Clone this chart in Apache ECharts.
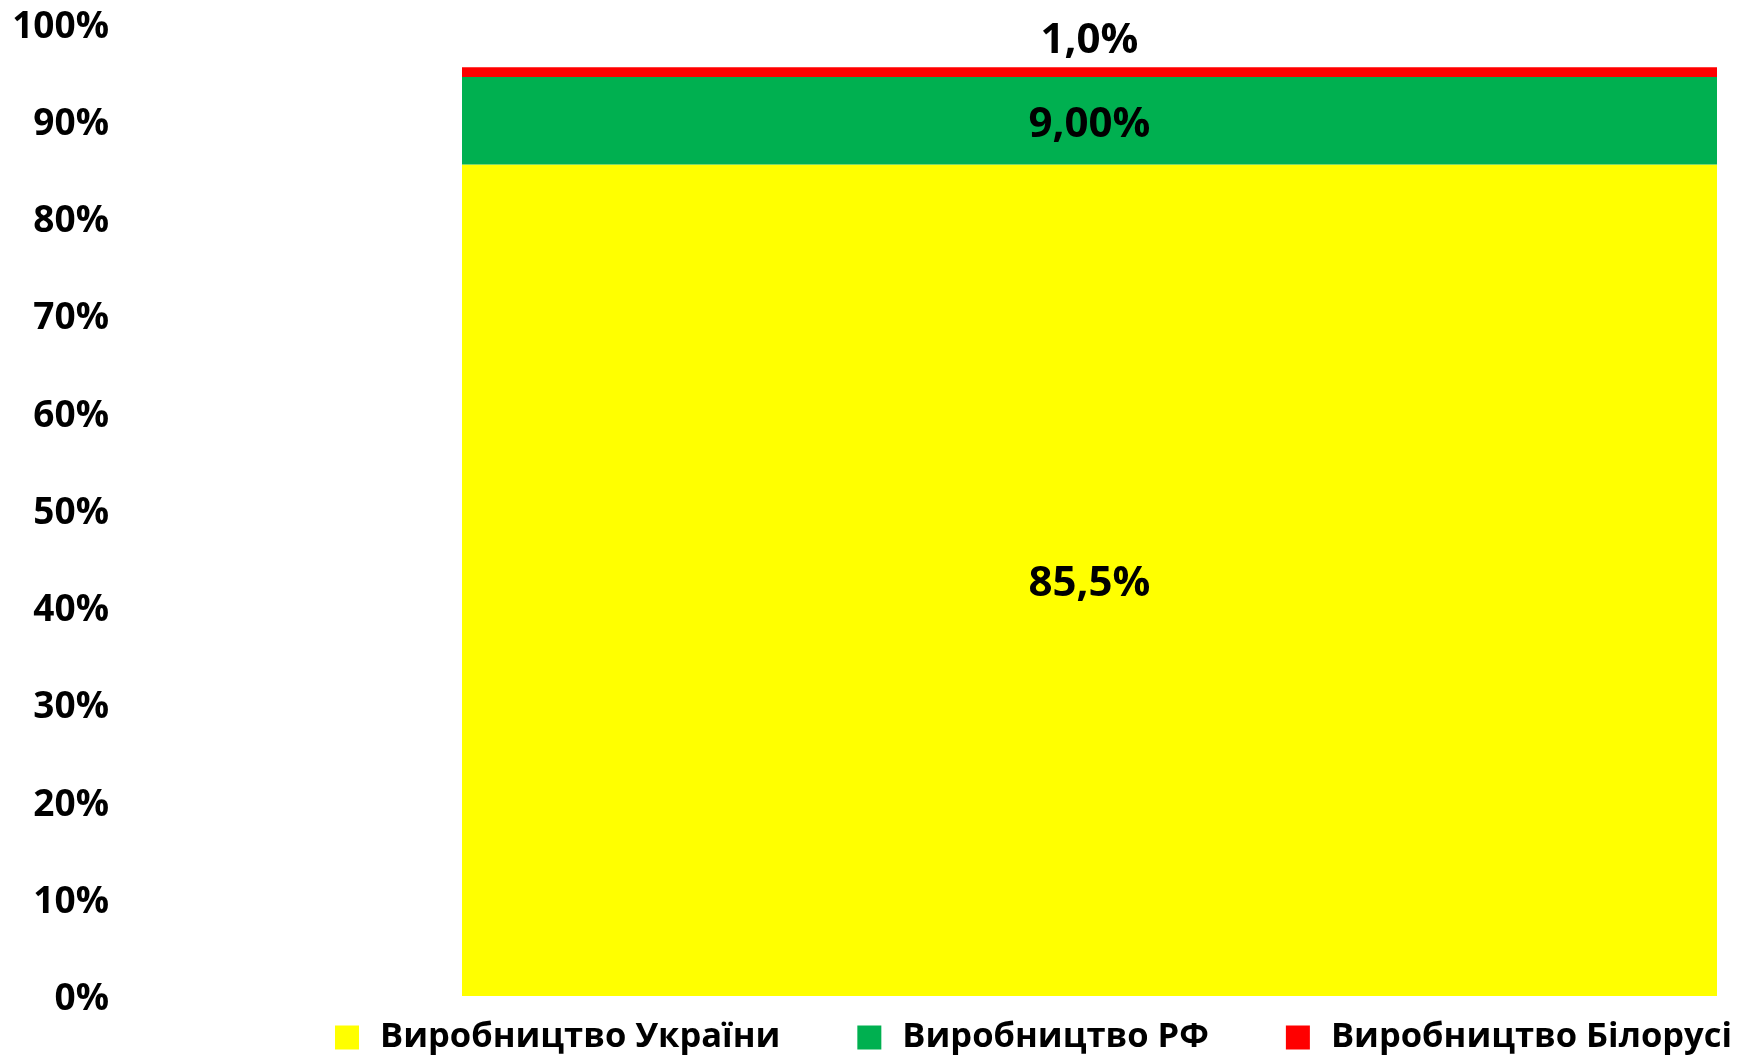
<!DOCTYPE html>
<html>
<head>
<meta charset="utf-8">
<script src="https://cdn.jsdelivr.net/npm/echarts@6/dist/echarts.min.js"></script>
<style>
  html, body { margin: 0; padding: 0; background: #fff; }
  #chart { width: 1747px; height: 1058px; }
</style>
</head>
<body>
<div id="chart"></div>
<script>
const categories = ["2020"]
const seriesNames = ["Виробництво України", "Виробництво РФ", "Виробництво Білорусі"]
const ukraine = [85.5]
const russia = [9.0]
const belarus = [1.0]
const labelTexts = ["85,5%", "9,00%", "1,0%"]

const colors = {
  ukraine: '#FFFF00',
  russia: '#00B050',
  belarus: '#FF0000',
  text: '#000000'
}
const font = '"Open Sans", "Noto Sans", sans-serif'

const chart = echarts.init(document.getElementById('chart'))

const labelStyle = (text, position, dy) => ({
  show: true,
  position: position,
  distance: 5,
  offset: [0, dy],
  formatter: () => text,
  color: colors.text,
  fontFamily: font,
  fontWeight: 'bold',
  fontSize: 42
})

const option = {
  backgroundColor: '#ffffff',
  animation: false,
  grid: {
    left: 462,
    right: 30,
    top: 23.5,
    bottom: 62,
    containLabel: false
  },
  legend: {
    data: seriesNames,
    left: 335,
    top: 1020,
    width: 1410,
    padding: 0,
    orient: 'horizontal',
    icon: 'rect',
    itemWidth: 24,
    itemHeight: 24,
    itemGap: 77,
    textStyle: {
      color: colors.text,
      fontFamily: font,
      fontWeight: 'bold',
      fontSize: 34.5,
      padding: [0, 0, 0, 16]
    }
  },
  xAxis: {
    type: 'category',
    data: categories,
    axisLine: { show: false },
    axisTick: { show: false },
    axisLabel: { show: false }
  },
  yAxis: {
    type: 'value',
    min: 0,
    max: 100,
    interval: 10,
    axisLine: { show: false },
    axisTick: { show: false },
    splitLine: { show: false },
    axisLabel: {
      margin: 353,
      verticalAlign: 'top',
      lineHeight: 7,
      formatter: '{value}%',
      color: colors.text,
      fontFamily: font,
      fontWeight: 'bold',
      fontSize: 37
    }
  },
  series: [
    {
      name: seriesNames[0],
      type: 'bar',
      stack: 'total',
      barWidth: '100%',
      data: ukraine,
      itemStyle: { color: colors.ukraine },
      label: labelStyle(labelTexts[0], 'inside', 4)
    },
    {
      name: seriesNames[1],
      type: 'bar',
      stack: 'total',
      data: russia,
      itemStyle: { color: colors.russia },
      label: labelStyle(labelTexts[1], 'inside', 4)
    },
    {
      name: seriesNames[2],
      type: 'bar',
      stack: 'total',
      data: belarus,
      itemStyle: { color: colors.belarus },
      label: labelStyle(labelTexts[2], 'top', 0)
    }
  ]
}

chart.setOption(option)
</script>
</body>
</html>
